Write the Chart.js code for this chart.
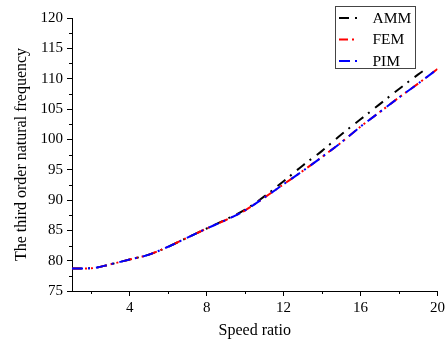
<!DOCTYPE html>
<html>
<head>
<meta charset="utf-8">
<script src="https://cdn.jsdelivr.net/npm/chart.js@4/dist/chart.umd.min.js"></script>
<style>
html,body{margin:0;padding:0;background:#fff;}
#wrap{width:448px;height:343px;}
</style>
</head>
<body>
<div id="wrap"><canvas id="c" width="448" height="343"></canvas></div>
<script>
// ---- data ----
const speedRatio = [1,2,3,4,5,6,7,8,9,10,11,12,13,14,15,16,17,18,19,20];
const ammX = [1,2,3,4,5,6,7,8,9,10,11,12,13,14,15,16,17,18,19,19.4];
const ammValues = [78.7,78.75,79.4,80.2,81.0,82.3,83.8,85.3,86.8,88.4,90.6,93.1,95.7,98.1,100.8,103.3,105.8,108.3,110.7,111.6];
const femValues = [78.7,78.75,79.4,80.2,81.0,82.3,83.8,85.3,86.7,88.3,90.4,92.6,94.8,97.1,99.5,102.1,104.5,106.9,109.2,111.6];
const pimValues = [78.7,78.75,79.4,80.2,81.0,82.3,83.8,85.3,86.7,88.3,90.4,92.6,94.8,97.1,99.5,102.1,104.5,106.9,109.2,111.6];
const xTicks = [4,8,12,16,20];
const xMinorTicks = [2,6,10,14,18];
const yTicks = [75,80,85,90,95,100,105,110,115,120];
const yMinorTicks = [77.5,82.5,87.5,92.5,97.5,102.5,107.5,112.5,117.5];
const seriesNames = ['AMM','FEM','PIM'];

const FONT = "'Liberation Serif', 'Times New Roman', serif";

function pts(xs, ys){ return xs.map((x,i)=>({x:x, y:ys[i]})); }

const dashes = {
  AMM: [10,6,2,7],
  FEM: [9,4,2,4,2,5],
  PIM: [11,5,2,6]
};
const colors = {AMM:'#000000', FEM:'#ff0000', PIM:'#0000ff'};

const minorTicksPlugin = {
  id:'minorTicks',
  afterDraw(chart){
    const ctx = chart.ctx;
    const xs = chart.scales.x, ys = chart.scales.y;
    ctx.save();
    ctx.strokeStyle = '#000';
    ctx.lineWidth = 1;
    ctx.beginPath();
    xMinorTicks.forEach(v=>{
      const px = Math.round(xs.getPixelForValue(v))+0.5;
      ctx.moveTo(px, xs.top); ctx.lineTo(px, xs.top+3);
    });
    yMinorTicks.forEach(v=>{
      const py = Math.round(ys.getPixelForValue(v))+0.5;
      ctx.moveTo(ys.right, py); ctx.lineTo(ys.right-3, py);
    });
    ctx.stroke();
    ctx.restore();
  }
};

const legendPlugin = {
  id:'boxLegend',
  afterDraw(chart){
    const ctx = chart.ctx;
    ctx.save();
    ctx.strokeStyle = '#444';
    ctx.lineWidth = 1;
    ctx.strokeRect(335.5, 6.5, 80, 62);
    ctx.font = "15.5px " + FONT;
    ctx.textBaseline = 'middle';
    ctx.textAlign = 'left';
    chart.data.datasets.forEach((ds,i)=>{
      const y = 17.5 + i*21.5;
      ctx.strokeStyle = ds.borderColor;
      ctx.lineWidth = 2;
      ctx.setLineDash(ds.borderDash);
      ctx.beginPath();
      ctx.moveTo(339, y+0.5); ctx.lineTo(357, y+0.5);
      ctx.stroke();
      ctx.setLineDash([]);
      ctx.fillStyle = '#000';
      ctx.fillText(ds.label, 372.5, y+1);
    });
    ctx.restore();
  }
};

const datasets = [
  {label:seriesNames[0], data:pts(ammX, ammValues), borderColor:colors.AMM, borderDash:dashes.AMM, order:2},
  {label:seriesNames[1], data:pts(speedRatio, femValues), borderColor:colors.FEM, borderDash:dashes.FEM, order:1},
  {label:seriesNames[2], data:pts(speedRatio, pimValues), borderColor:colors.PIM, borderDash:dashes.PIM, order:0}
].map(d=>Object.assign(d,{borderWidth:2, pointRadius:0, fill:false, cubicInterpolationMode:'monotone', borderCapStyle:'butt'}));

new Chart(document.getElementById('c'), {
  type:'line',
  data:{datasets:datasets},
  options:{
    responsive:false,
    animation:false,
    layout:{padding:{left:0, top:18, right:10, bottom:0}},
    plugins:{legend:{display:false}, tooltip:{enabled:false}},
    scales:{
      x:{
        type:'linear', min:1, max:20,
        afterBuildTicks(s){ s.ticks = xTicks.map(v=>({value:v})); },
        afterFit(s){ s.height = 52; },
        grid:{drawOnChartArea:false, drawTicks:true, tickLength:5, color:'#000', lineWidth:1},
        border:{display:true, color:'#000', width:1},
        ticks:{color:'#000', font:{family:FONT, size:15}, padding:3, maxRotation:0},
        title:{display:true, text:'Speed ratio', color:'#000', font:{family:FONT, size:16}, padding:{top:0, bottom:2.5}}
      },
      y:{
        type:'linear', min:75, max:120,
        afterBuildTicks(s){ s.ticks = yTicks.map(v=>({value:v})); },
        afterFit(s){ s.width = 72; },
        grid:{drawOnChartArea:false, drawTicks:true, tickLength:5, color:'#000', lineWidth:1},
        border:{display:true, color:'#000', width:1},
        ticks:{color:'#000', font:{family:FONT, size:15}, padding:4},
        title:{display:true, text:'The third order natural frequency', color:'#000', font:{family:FONT, size:16}, padding:{top:12.5, bottom:0}}
      }
    }
  },
  plugins:[minorTicksPlugin, legendPlugin]
});
</script>
</body>
</html>
